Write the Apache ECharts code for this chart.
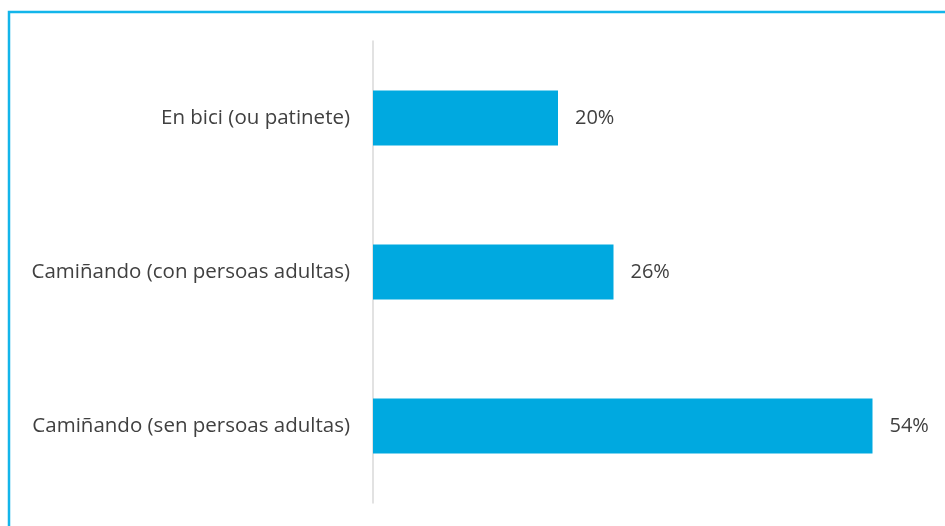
<!DOCTYPE html>
<html>
<head>
<meta charset="utf-8">
<script src="https://cdn.jsdelivr.net/npm/echarts@6/dist/echarts.min.js"></script>
<style>
html,body{margin:0;padding:0;background:#fff;}
#chart{width:945px;height:526px;}
</style>
</head>
<body>
<div id="chart"></div>
<script>
const categories = ["Camiñando (sen persoas adultas)", "Camiñando (con persoas adultas)", "En bici (ou patinete)"];
const values = [54, 26, 20];

const chart = echarts.init(document.getElementById('chart'), null, {renderer: 'canvas'});
chart.setOption({
  animation: false,
  backgroundColor: '#ffffff',
  graphic: [{
    type: 'polyline',
    shape: {points: [[9, 600], [9, 12], [1000, 12]]},
    style: {stroke: '#13b5ea', lineWidth: 2.5, fill: null},
    silent: true
  }],
  grid: {left: 373, right: 17, top: 41, bottom: 23, containLabel: false},
  xAxis: {
    type: 'value', min: 0, max: 60,
    show: false
  },
  yAxis: {
    type: 'category',
    data: categories,
    axisLine: {show: true, lineStyle: {color: '#d9d9d9', width: 1.5}},
    axisTick: {show: false},
    axisLabel: {
      color: '#404040', fontSize: 20.5, fontFamily: 'Open Sans', margin: 23
    },
    splitLine: {show: false}
  },
  series: [{
    type: 'bar',
    data: values,
    barWidth: 55,
    itemStyle: {color: '#00a9e0'},
    label: {
      show: true, position: 'right', distance: 17,
      formatter: '{c}%', color: '#404040', fontSize: 20, fontFamily: 'Open Sans'
    }
  }]
});
</script>
</body>
</html>
